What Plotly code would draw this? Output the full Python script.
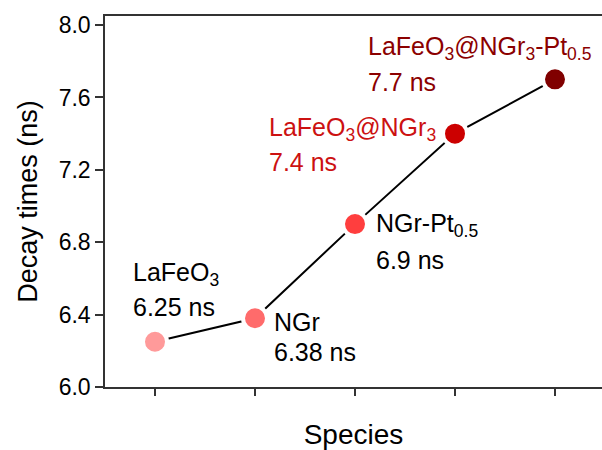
import plotly.graph_objects as go

species = ["LaFeO3", "NGr", "NGr-Pt0.5", "LaFeO3@NGr3", "LaFeO3@NGr3-Pt0.5"]
decay_ns = [6.25, 6.38, 6.9, 7.4, 7.7]
marker_colors = ["#FF9A9A", "#FF6B6B", "#FF3E3E", "#CC0000", "#800000"]
label_names = ["LaFeO<sub>3</sub>", "NGr", "NGr-Pt<sub>0.5</sub>",
               "LaFeO<sub>3</sub>@NGr<sub>3</sub>",
               "LaFeO<sub>3</sub>@NGr<sub>3</sub>-Pt<sub>0.5</sub>"]
label_values = ["6.25 ns", "6.38 ns", "6.9 ns", "7.4 ns", "7.7 ns"]
label_colors = ["#000000", "#000000", "#000000", "#CC1111", "#8B0000"]
y_ticks = [6.0, 6.4, 6.8, 7.2, 7.6, 8.0]

W, H = 602, 450
L, R, T, B = 105, 0, 16, 63
X0, X1 = -0.5, 4.47
Y0, Y1 = 6.0, 8.05

def px2x(px):
    return X0 + (px - L) / (W - L - R) * (X1 - X0)

def px2y(py):
    return Y0 + (H - B - py) / (H - B - T) * (Y1 - Y0)

xs = list(range(len(species)))
font = "Arial, 'Liberation Sans', sans-serif"

fig = go.Figure()
fig.add_trace(go.Scatter(
    x=xs, y=decay_ns, mode="lines",
    line=dict(color="black", width=2), hoverinfo="skip", showlegend=False))
fig.add_trace(go.Scatter(
    x=xs, y=decay_ns, mode="markers",
    marker=dict(color=marker_colors, size=24, line=dict(color="white", width=4)),
    showlegend=False))

# label placement (left pixel, line1 center, line2 center)
pos = [(131, 274, 307), (272, 322, 352), (374, 225, 260), (267, 129, 162), (366, 48, 82)]
anns = []
for i, (lx, y1, y2) in enumerate(pos):
    anns.append(dict(x=px2x(lx), y=px2y(y1), xref="x", yref="y", text=label_names[i],
                     showarrow=False, xanchor="left", yanchor="middle",
                     font=dict(size=25, color=label_colors[i], family=font)))
    anns.append(dict(x=px2x(lx), y=px2y(y2), xref="x", yref="y", text=label_values[i],
                     showarrow=False, xanchor="left", yanchor="middle",
                     font=dict(size=25, color=label_colors[i], family=font)))

fig.update_layout(
    width=W, height=H,
    margin=dict(l=L, r=R, t=T, b=B, pad=0),
    paper_bgcolor="white", plot_bgcolor="white",
    font=dict(family=font, color="black"),
    annotations=anns,
    xaxis=dict(range=[X0, X1], tickvals=xs, showticklabels=False,
               ticks="outside", ticklen=7, tickwidth=1.5, tickcolor="#333",
               showline=True, linecolor="#333", linewidth=1.5, mirror=True,
               showgrid=False, zeroline=False,
               title=dict(text="Species", font=dict(size=28), standoff=30)),
    yaxis=dict(range=[Y0, Y1], tickvals=y_ticks, ticktext=[f"{v:.1f}" for v in y_ticks],
               ticks="outside", ticklen=8, tickwidth=1.5, tickcolor="#333",
               showline=True, linecolor="#333", linewidth=1.5,
               showgrid=False, zeroline=False, tickfont=dict(size=23),
               title=dict(text="Decay times (ns)", font=dict(size=27), standoff=13)),
)
fig.write_html("out.html", config={"displayModeBar": False},
               post_script="document.body.style.margin='0';document.body.style.overflow='hidden';")
